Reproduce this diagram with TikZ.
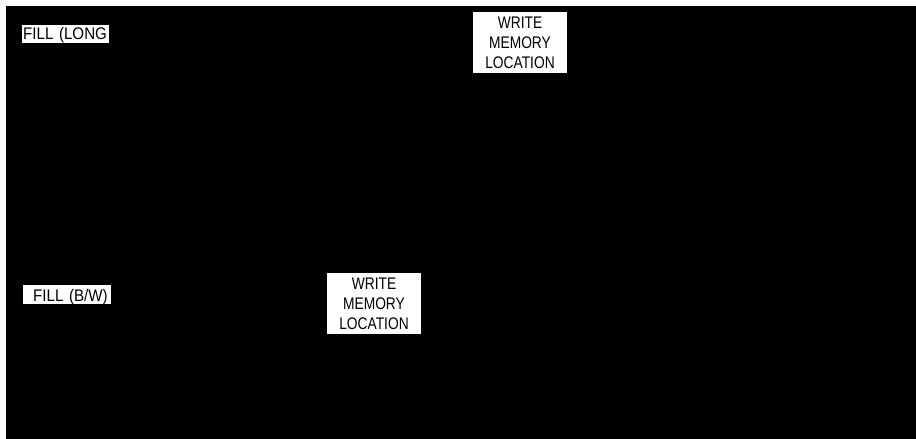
\documentclass[tikz,border=0pt]{standalone}
\usepackage{fontspec}
\setmainfont{Liberation Sans}
\newfontfamily\narrowfont{Liberation Sans}[FakeStretch=0.82]
\newfontfamily\fillfont{Liberation Sans}[FakeStretch=0.9]
\begin{document}
\begin{tikzpicture}[x=1pt,y=-1pt,
  box/.style={fill=white,draw=none,inner sep=0pt,align=center,
    minimum width=94pt,minimum height=61pt,
    font=\narrowfont\fontsize{16.8}{20}\selectfont,text=black},
  lbl/.style={fill=white,draw=none,inner sep=0pt,align=left,anchor=base west,
    font=\fillfont\fontsize{16.8}{20}\selectfont,text=black}]
\useasboundingbox (0,0) rectangle (916,439);
\fill[black] (6,6) rectangle (916,439);
\node[box] (w1) at (520,42.5) {WRITE\\MEMORY\\LOCATION};
\node[box] (w2) at (374,303.5) {WRITE\\MEMORY\\LOCATION};
\node[lbl,text width=87pt,text height=14pt,text depth=4pt] (f1) at (22,39) {\hspace{1pt}FILL (LONG};
\node[lbl,text width=88pt,text height=16pt,text depth=3pt] (f2) at (23,301) {\hspace{10pt}FILL (B/W)};
\end{tikzpicture}
\end{document}
